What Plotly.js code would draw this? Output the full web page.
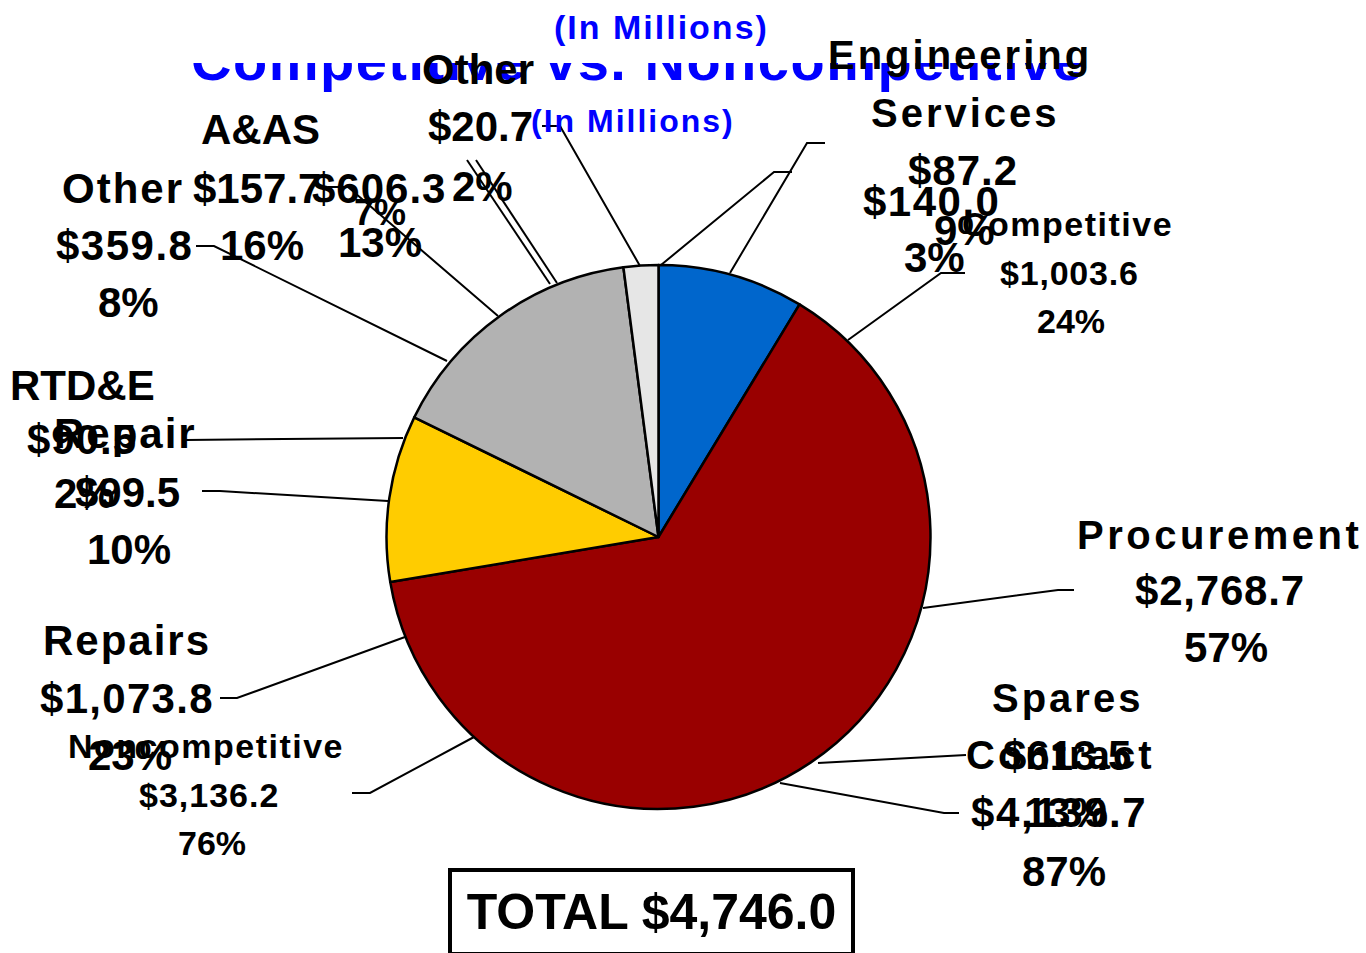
<!DOCTYPE html>
<html><head><meta charset="utf-8">
<script src="https://cdn.plot.ly/plotly-3.0.1.min.js"></script>
<style>html,body{margin:0;padding:0;background:#fff;overflow:hidden}#chart{width:1366px;height:953px}</style>
</head><body><div id="chart"></div>
<script>
const W = 1366, H = 953;
const FONT = 'Liberation Sans, Arial, sans-serif';

// Pie slices (clockwise from 12 o'clock), values in $ millions
const sliceLabels = ['Engineering Services', 'Procurement', 'Repair', 'A&AS', 'Other'];
const sliceValues = [87.2, 640.0, 99.5, 157.7, 20.7];
const sliceColors = ['#0066CC', '#990000', '#FFCC00', '#B2B2B2', '#E6E6E6'];

// Texts
const titleText = 'Competitive vs. Noncompetitive';
const unitText = '(In Millions)';
const totalText = 'TOTAL $4,746.0';
const labelLines = [
  'Other', '$20.7', '2%',
  'A&AS', '$157.7', '16%',
  'Other', '$359.8', '8%',
  '$606.3', '7%', '13%',
  'Engineering', 'Services', '$87.2', '$140.0', '9%', '3%',
  'Competitive', '$1,003.6', '24%',
  'Noncompetitive', '$3,136.2', '76%',
  'Repairs', '$1,073.8', '23%',
  'RTD&E', '$90.5', 'Repair', '2%', '$99.5', '10%',
  'Procurement', '$2,768.7', '57%',
  'Spares', 'Contract', '$613.5', '$4,139.7', '13%', '87%'
];
// [centre x px, centre y px, font size, letter spacing]
const labelLayout = [
  [478, 69, 42, 0], [480, 126, 42, 0], [482, 186, 42, 0],
  [260, 130, 42, 0], [257, 188, 42, 0], [262, 246, 42, 0],
  [123, 188, 42, 2], [124, 246, 42, 1.5], [128, 302, 42, 0],
  [379, 188, 42, 1], [380, 213, 36, 0], [380, 242, 42, 0],
  [960, 55, 40, 3], [965, 113, 40, 3], [963, 170, 42, 1], [931, 201, 42, 1.5], [964, 230, 42, 0], [935, 257, 42, 0],
  [1067, 224, 34, 1.5], [1069, 273, 34, 0.8], [1071, 321, 34, 0],
  [206, 746, 34, 1.5], [209, 795, 34, 1], [212, 843, 34, 0],
  [127, 640, 42, 2], [127, 698, 42, 1.3], [130, 755, 42, 0],
  [82, 385, 42, 0], [82, 440, 42, 1], [125, 433, 42, 2], [84, 493, 42, 0], [127, 492, 42, 0], [129, 549, 42, 0],
  [1219, 535, 40, 3.5], [1220, 590, 42, 0.8], [1226, 647, 42, 0],
  [1067, 698, 40, 3], [1060, 755, 40, 3], [1067, 755, 42, 0], [1059, 812, 42, 1.6], [1066, 812, 42, 0], [1064, 871, 42, 0]
];
// Leader lines (pixel points)
const leaderPaths = [
  [[196, 246], [214, 246], [447, 361]],
  [[328, 187], [348, 187], [498, 316]],
  [[467, 160], [550, 284]],
  [[476, 160], [557, 283]],
  [[542, 126], [560, 126], [640, 266]],
  [[825, 143], [807, 143], [730, 273]],
  [[792, 172], [774, 172], [661, 265]],
  [[965, 273], [941, 273], [848, 340]],
  [[1074, 590], [1058, 590], [923, 608]],
  [[818, 763], [966, 755]],
  [[780, 783], [944, 813], [959, 813]],
  [[352, 793], [370, 793], [474, 737]],
  [[220, 698], [237, 698], [405, 637]],
  [[202, 491], [220, 491], [388, 501]],
  [[186, 440], [403, 438]]
];

const px = x => x / W, py = y => 1 - y / H;
function ann(text, x, y, size, sp, color) {
  const t = sp ? '<span style="letter-spacing:' + sp + 'px">' + text + '</span>' : text;
  return {xref: 'paper', yref: 'paper', x: px(x), y: py(y), xanchor: 'center', yanchor: 'middle',
    showarrow: false, text: t, borderpad: 0,
    font: {family: FONT, size: size, color: color || '#000000', weight: 700}};
}

const annotations = [];
// blue title, partly hidden by a white panel
annotations.push(ann(titleText, 638, 61, 56, 1.5, '#0000FF'));
annotations.push({xref: 'paper', yref: 'paper', x: px(175), y: 1, xanchor: 'left', yanchor: 'top',
  showarrow: false, text: '\u00a0', width: 930, height: 63, bgcolor: '#FFFFFF', borderpad: 0, borderwidth: 0,
  font: {size: 10}});
annotations.push(ann(unitText, 661, 27, 34, 2, '#0000FF'));
annotations.push(ann(unitText, 633, 121, 32, 2, '#0000FF'));
labelLines.forEach((t, i) => {
  const L = labelLayout[i];
  annotations.push(ann(t, L[0], L[1], L[2], L[3]));
});
annotations.push({xref: 'paper', yref: 'paper', x: px(651), y: py(912), xanchor: 'center', yanchor: 'middle',
  showarrow: false, text: totalText, width: 399, height: 80, bgcolor: '#FFFFFF',
  bordercolor: '#000000', borderwidth: 4, borderpad: 0,
  font: {family: FONT, size: 50, color: '#000000', weight: 700}});

const shapes = leaderPaths.map(pts => ({
  type: 'path', xref: 'paper', yref: 'paper', layer: 'above',
  path: pts.map((p, i) => (i ? 'L' : 'M') + px(p[0]) + ',' + py(p[1])).join(' '),
  line: {color: '#000000', width: 2}
}));

const trace = {
  type: 'pie', labels: sliceLabels, values: sliceValues, sort: false,
  direction: 'clockwise', rotation: 0,
  marker: {colors: sliceColors, line: {color: '#000000', width: 2.5}},
  textinfo: 'none', hoverinfo: 'label+value+percent', showlegend: false,
  domain: {x: [386 / W, 931 / W], y: [1 - 809 / H, 1 - 265 / H]}
};

Plotly.newPlot('chart', [trace], {
  width: W, height: H, autosize: false,
  margin: {l: 0, r: 0, t: 0, b: 0},
  paper_bgcolor: '#FFFFFF', plot_bgcolor: '#FFFFFF',
  showlegend: false, annotations: annotations, shapes: shapes
}, {displayModeBar: false, staticPlot: true});
</script>
</body></html>
